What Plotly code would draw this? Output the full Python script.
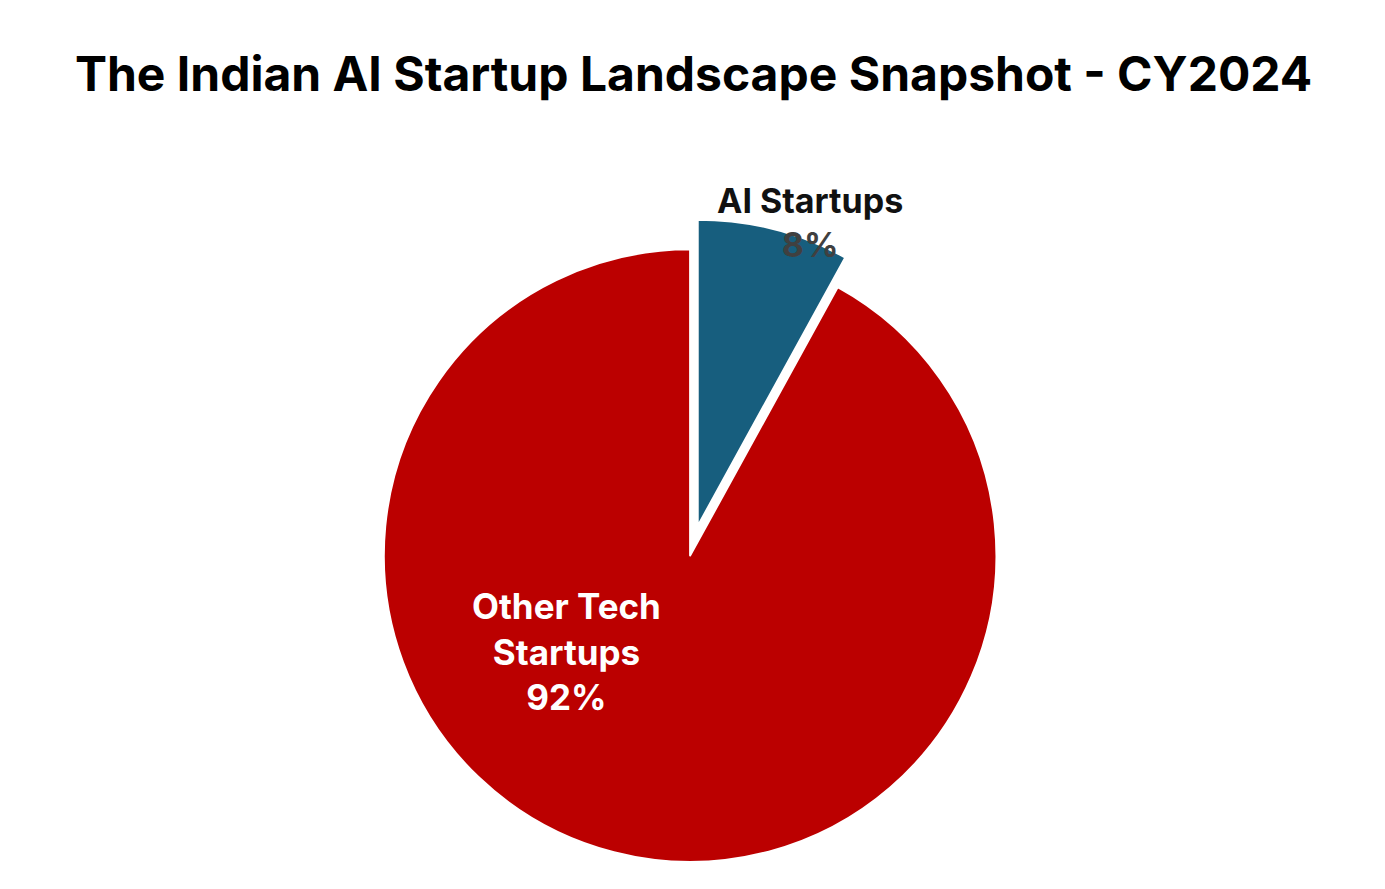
import plotly.graph_objects as go

labels = ["AI Startups", "Other Tech<br>Startups"]
shares = [8, 92]
colors = ["#175E7E", "#BB0000"]


def main():

    fig = go.Figure()

    fig.add_trace(go.Pie(
        labels=labels,
        values=shares,
        sort=False,
        direction="clockwise",
        rotation=0,
        pull=[0.1, 0],
        marker=dict(colors=colors, line=dict(color="#FFFFFF", width=2)),
        textinfo="none",
        showlegend=False,
        hoverinfo="label+percent",
        domain=dict(x=[0.249, 0.736], y=[0.005, 0.763]),
    ))

    total = sum(shares)
    pcts = [f"{round(v / total * 100)}%" for v in shares]

    # Slice labels placed like the original.
    fig.add_annotation(
        x=0.579, y=1 - 170 / 889, xref="paper", yref="paper", showarrow=False,
        text=f"<b>{labels[0]}</b><br><b><span style='color:#404040'>{pcts[0]}</span></b>",
        font=dict(size=34, color="#111111", family="Inter"),
    )
    fig.add_annotation(
        x=0.403, y=1 - 712 / 889, xref="paper", yref="paper", showarrow=False,
        text=f"<b>{labels[1]}<br>{pcts[1]}</b>",
        font=dict(size=35, color="#FFFFFF", family="Inter"),
    )

    fig.update_layout(
        width=1385,
        height=889,
        margin={"r": 0, "t": 0, "l": 0, "b": 0},
        paper_bgcolor="#FFFFFF",
        font_family="Inter",
        title=dict(
            text="<b>The Indian AI Startup Landscape Snapshot - CY2024</b>",
            x=0.495,
            xanchor="center",
            y=0.925,
            yanchor="middle",
            font=dict(size=48, color="#000000", family="Inter"),
        ),
    )

    fig.write_html("out.html")


if __name__ == "__main__":

    main()
